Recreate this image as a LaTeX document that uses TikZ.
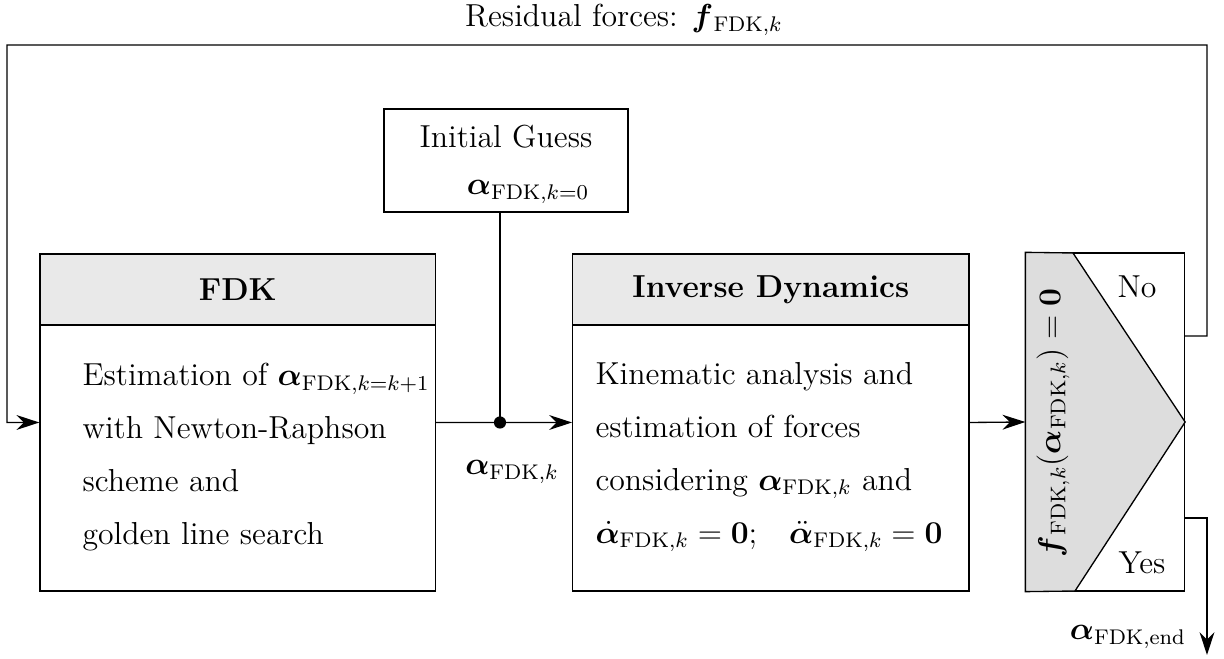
\documentclass[tikz,border=0pt,12pt]{standalone}
\usepackage{amsmath,bm}
\usetikzlibrary{arrows.meta,fit}
\newcommand{\fvec}{{\bm{f}}}
\begin{document}
\begin{tikzpicture}[x=0.3774pt,y=-0.3774pt,
  box/.style={draw=black, line width=0.5pt, inner sep=0pt},
  hdr/.style={box, fill=gray!17},
  conn/.style={line width=0.5pt, draw=black},
  arr/.style={conn, -{Stealth[length=8.6pt,width=5.6pt,inset=2.8pt]}},
  bodytext/.style={align=left, anchor=west, inner sep=0pt, font=\fontsize{12}{20}\selectfont},
  lbl/.style={inner sep=0pt}]
\useasboundingbox (0,0) rectangle (1224,659);

% FDK block
\node[box, fit={(40,254) (435.5,591)}] (fdk) {};
\node[hdr, fit={(40,254) (435.5,325)}] (fdkhead) {};
\node[lbl] (fdktitle) at (237.75,290) {\textbf{FDK}};
\node[bodytext] (fdkbody) at (82,457) {Estimation of $\bm{\alpha}_{\mathrm{FDK},k=k+1}$\\ with Newton-Raphson\\ scheme and\\ golden line search};

% Inverse dynamics block
\node[box, fit={(572.7,254) (969,591)}] (inv) {};
\node[hdr, fit={(572.7,254) (969,325)}] (invhead) {};
\node[lbl] (invtitle) at (770.85,290) {\textbf{Inverse Dynamics}};
\node[bodytext] (invbody) at (595,457) {Kinematic analysis and\\ estimation of forces\\ considering $\bm{\alpha}_{\mathrm{FDK},k}$ and\\ $\dot{\bm{\alpha}}_{\mathrm{FDK},k}=\mathbf{0}$;\quad $\ddot{\bm{\alpha}}_{\mathrm{FDK},k}=\mathbf{0}$};

% Initial guess
\node[box, fit={(384,109) (628,212)}] (ig) {};
\node[lbl] (igtitle) at (506,137) {Initial Guess};
\node[lbl] (igval) at (528,192) {$\bm{\alpha}_{\mathrm{FDK},k=0}$};

% Decision block
\node[box, fit={(1026,253) (1184.5,591)}] (dec) {};
\filldraw[fill=gray!27, draw=black, line width=0.5pt] (dec.north west) -- (1073,253) -- (dec.east) -- (1075,591) -- (dec.south west) -- cycle;
\node[lbl, rotate=90] (cond) at (1053,423) {$\fvec_{\mkern3mu\mathrm{FDK},k}(\bm{\alpha}_{\mathrm{FDK},k}) = \mathbf{0}$};
\node[lbl] (no) at (1137,287) {No};
\node[lbl] (yes) at (1142,563) {Yes};

% connectors
\coordinate (junc) at (500,422.5);
\draw[conn] (fdk.east) -- (junc);
\draw[conn] (ig.south -| junc) -- (junc);
\draw[arr] (junc) -- (inv.west);
\fill[black] (junc) circle (2.3pt);
\node[lbl] (alphak) at (512,472) {$\bm{\alpha}_{\mathrm{FDK},k}$};

\draw[arr] (inv.east) -- (dec.west);

\coordinate (noout) at (1184.5,336);
\draw[arr] (noout) -- (1207,336) -- (1207,45) -- (7,45) -- (7,422.5) -- (fdk.west);
\node[lbl] (resid) at (624,20) {Residual forces: $\fvec_{\mkern3mu\mathrm{FDK},k}$};

\coordinate (yesout) at (1184.5,518);
\coordinate (endpt) at (1207,655);
\draw[arr] (yesout) -- (1207,518) -- (endpt);
\node[lbl] (alphaend) at (1128,637) {$\bm{\alpha}_{\mathrm{FDK},\mathrm{end}}$};
\end{tikzpicture}
\end{document}
